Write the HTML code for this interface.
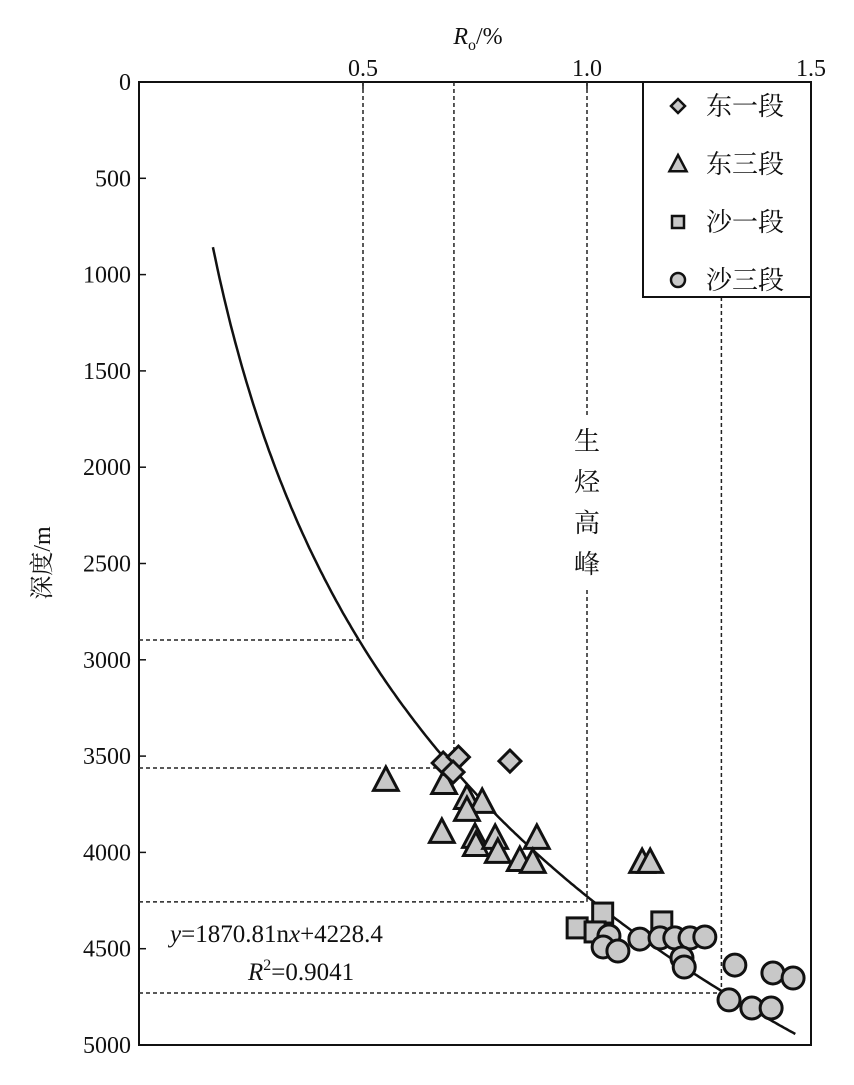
<!DOCTYPE html>
<html><head><meta charset="utf-8"><style>
body{margin:0;background:#fff}
svg text{font-family:"Liberation Serif","Noto Serif CJK SC","Noto Sans CJK SC",serif;fill:#111}
</style></head><body>
<svg width="854" height="1080">
<g id="root"></g>
</svg>
<script>
const xTicks=[0.5,1.0,1.5];
const xTickLabels=["0.5","1.0","1.5"];
const yTicks=[0,500,1000,1500,2000,2500,3000,3500,4000,4500,5000];
const dongYiRo=[0.679,0.713,0.701,0.828];
const dongYiDepth=[3536,3505,3583,3526];
const dongSanRo=[0.551,0.681,0.732,0.766,0.732,0.676,0.750,0.752,0.795,0.801,0.888,0.850,0.879,1.123,1.141];
const dongSanDepth=[3624,3640,3718,3738,3780,3894,3920,3962,3925,3998,3925,4040,4050,4050,4050];
const shaYiRo=[1.035,0.978,1.018,1.167];
const shaYiDepth=[4315,4392,4413,4361];
const shaSanRo=[1.049,1.036,1.069,1.118,1.163,1.196,1.230,1.263,1.212,1.217,1.330,1.415,1.460,1.317,1.368,1.411];
const shaSanDepth=[4434,4491,4512,4450,4444,4444,4444,4439,4548,4595,4585,4626,4652,4766,4808,4808];
const refRo=[0.5,0.703,1.0,1.30];
const refDepth=[2897,3562,4257,4730];
const fitA=1870.8, fitB=4228.4;

const L=139,R=811,T=82,B=1045;
const X=v=>L+v/1.5*(R-L);
const Y=d=>T+d/5000*(B-T);
const NS="http://www.w3.org/2000/svg";
const root=document.getElementById('root');
function mk(tag,attrs,parent){const e=document.createElementNS(NS,tag);for(const k in attrs)e.setAttribute(k,attrs[k]);(parent||root).appendChild(e);return e;}

// frame
const frame=mk('rect',{x:L,y:T,width:R-L,height:B-T,fill:'none',stroke:'#111','stroke-width':2});



// x ticks
xTicks.forEach((v,i)=>{
  const t=mk('line',{x1:X(v),x2:X(v),y1:T,y2:T+7,stroke:'#111','stroke-width':1.5});
  
  
  const tx=mk('text',{x:X(v),y:T-6,'text-anchor':'middle','font-size':24});
  tx.textContent=xTickLabels[i];
  
  
});
yTicks.forEach(v=>{
  const t=mk('line',{x1:L,x2:L+7,y1:Y(v),y2:Y(v),stroke:'#111','stroke-width':1.5});
  
  
  const tx=mk('text',{x:L-8,y:Y(v)+8,'text-anchor':'end','font-size':24});
  tx.textContent=String(v);
  
  
});

// axis titles
const xt=mk('text',{x:478,y:44,'text-anchor':'middle','font-size':24});
xt.innerHTML='<tspan font-style="italic">R</tspan><tspan font-size="16" dy="6">o</tspan><tspan dy="-6">/%</tspan>';


const yt=mk('text',{x:50,y:563,'text-anchor':'middle','font-size':24,transform:'rotate(-90 50 563)'});
yt.textContent='深度/m';



// reference dashed lines
refRo.forEach((r,i)=>{
  const d=refDepth[i];
  const h=mk('line',{x1:L,x2:X(r),y1:Y(d),y2:Y(d),stroke:'#222','stroke-width':1.5,'stroke-dasharray':'4 3'});
  
  
  let top=T;
  if(i===2) top=590;
  if(i===3) top=297;
  const v=mk('line',{x1:X(r),x2:X(r),y1:top,y2:Y(d),stroke:'#222','stroke-width':1.5,'stroke-dasharray':'4 3'});
  
  
});
const peak=mk('line',{x1:X(1.0),x2:X(1.0),y1:T,y2:415,stroke:'#222','stroke-width':1.5,'stroke-dasharray':'4 3'});


['生','烃','高','峰'].forEach((c,i)=>{
  const t=mk('text',{x:X(1.0),y:450+i*41,'text-anchor':'middle','font-size':26});
  t.textContent=c;
  
  
});

// fit curve
let pts=[];
for(let r=0.165;r<=1.465;r+=0.005){pts.push(X(r).toFixed(1)+','+Y(fitA*Math.log(r)+fitB).toFixed(1));}
const curve=mk('polyline',{points:pts.join(' '),fill:'none',stroke:'#111','stroke-width':2.5});



const st={fill:'#c8c8c8',stroke:'#111','stroke-width':3};
function diamond(cx,cy,s){return mk('polygon',Object.assign({points:`${cx},${cy-s} ${cx+s},${cy} ${cx},${cy+s} ${cx-s},${cy}`},st));}
function tri(cx,cy,s){return mk('polygon',Object.assign({points:`${cx},${cy-s} ${cx+s*0.95},${cy+s*0.8} ${cx-s*0.95},${cy+s*0.8}`},st));}
function sq(cx,cy,s){return mk('rect',Object.assign({x:cx-s,y:cy-s,width:2*s,height:2*s},st));}
function circ(cx,cy,s){return mk('circle',Object.assign({cx:cx,cy:cy,r:s},st));}

dongSanRo.forEach((r,i)=>{const e=tri(X(r),Y(dongSanDepth[i]),13);
  
  });
dongYiRo.forEach((r,i)=>{const e=diamond(X(r),Y(dongYiDepth[i]),11);
  
  });
shaYiRo.forEach((r,i)=>{const e=sq(X(r),Y(shaYiDepth[i]),10);
  
  });
shaSanRo.forEach((r,i)=>{const e=circ(X(r),Y(shaSanDepth[i]),11);
  
  });

// equation
const eq=mk('text',{x:170,y:942,'font-size':25});
eq.innerHTML='<tspan font-style="italic">y</tspan>=1870.81n<tspan font-style="italic">x</tspan>+4228.4';


const r2=mk('text',{x:248,y:980,'font-size':25});
r2.innerHTML='<tspan font-style="italic">R</tspan><tspan font-size="16" dy="-10">2</tspan><tspan dy="10">=0.9041</tspan>';



// legend
const lg=mk('rect',{x:643,y:T,width:R-643,height:215,fill:'#fff',stroke:'#111','stroke-width':2});


const labels=['东一段','东三段','沙一段','沙三段'];
const fns=[(x,y)=>diamond(x,y,7),(x,y)=>tri(x,y,9),(x,y)=>sq(x,y,6),(x,y)=>circ(x,y,7)];
labels.forEach((l,i)=>{
  const y=106+i*58;
  const m=fns[i](678,y);
  m.setAttribute('stroke-width',2.5);
  
  
  const t=mk('text',{x:706,y:y+9,'font-size':26});
  t.textContent=l;
  
  
});
</script>
</body></html>
